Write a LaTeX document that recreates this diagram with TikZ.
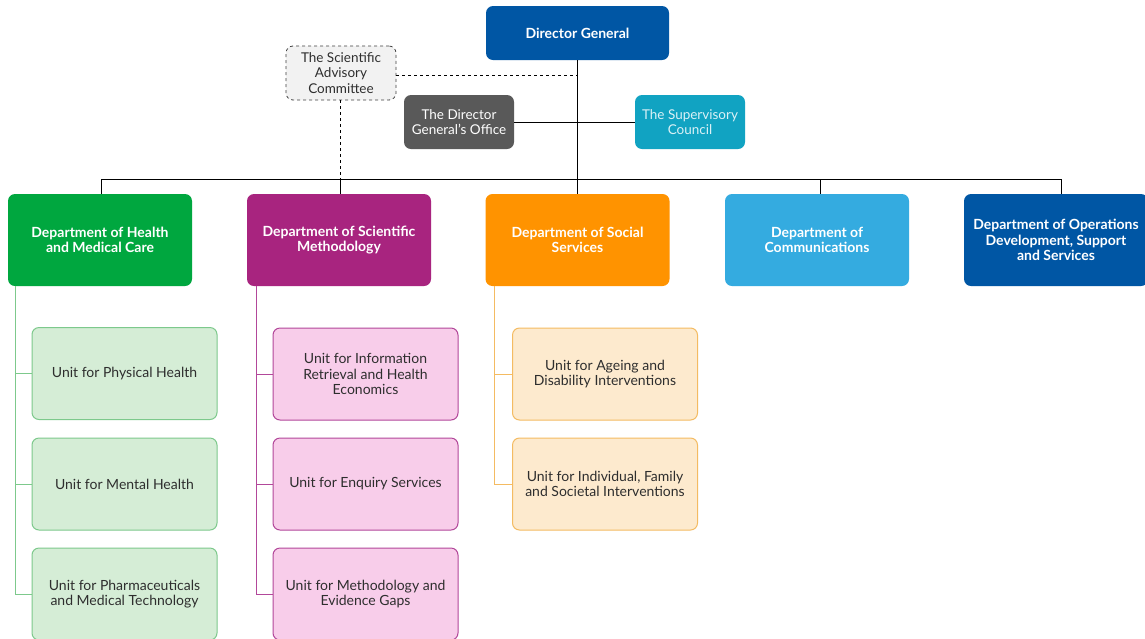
\documentclass[tikz,border=0pt]{standalone}
\usepackage{fontspec}
\setmainfont{Lato}
\usetikzlibrary{calc}
\definecolor{dgblue}{HTML}{0056A4}
\definecolor{dgoGrey}{HTML}{595959}
\definecolor{scTeal}{HTML}{11A3C2}
\definecolor{hGreen}{HTML}{00A73F}
\definecolor{smPurple}{HTML}{A8247F}
\definecolor{ssOrange}{HTML}{FF9300}
\definecolor{cmBlue}{HTML}{34ABE0}
\definecolor{gFill}{HTML}{D5EDD6}
\definecolor{gLine}{HTML}{7DC98C}
\definecolor{pFill}{HTML}{F8CDEA}
\definecolor{pLine}{HTML}{B2479A}
\definecolor{oFill}{HTML}{FDEACE}
\definecolor{oLine}{HTML}{F4BB62}
\definecolor{txt}{HTML}{2E2E2E}
\tikzset{
  box/.style={rectangle, rounded corners=7pt, align=center, inner sep=2pt},
  topbox/.style={box, minimum width=110pt, minimum height=54pt, font=\fontsize{13.5}{15.5}\selectfont},
  dept/.style={box, fill=#1, minimum width=184pt, minimum height=92pt, text=white, font=\fontsize{14}{15.5}\selectfont\bfseries},
  unitbox/.style={box, minimum width=185pt, minimum height=92pt, text=txt, font=\fontsize{14}{15.5}\selectfont, line width=1pt},
  conn/.style={line width=0.9pt, draw=black},
  dconn/.style={line width=0.8pt, draw=black, dashed},
}
\begin{document}
\begin{tikzpicture}[x=1pt,y=-1pt]
\useasboundingbox (0,0) rectangle (1145,638);
\fill[white] (0,0) rectangle (1145,638);
% top level
\node[box, fill=dgblue, minimum width=183pt, minimum height=54pt, text=white, font=\fontsize{14}{15.5}\selectfont\bfseries] (dg) at (577.5,33) {Director General};
\node[topbox, fill=black!5, draw=black!75, dashed, line width=0.8pt, text=txt] (sac) at (341,73) {The Scientific\\Advisory\\Committee};
\node[topbox, fill=dgoGrey, text=white] (dgo) at (459,122) {The Director\\General's Office};
\node[topbox, fill=scTeal, text=white!85!scTeal] (sc) at (690,122) {The Supervisory\\Council};
% departments
\node[dept=hGreen] (hd) at (100,240) {Department of Health\\and Medical Care};
\node[dept=smPurple] (sm) at (339,240) {Department of Scientific\\Methodology};
\node[dept=ssOrange] (ss) at (577.5,240) {Department of Social\\Services};
\node[dept=cmBlue] (cm) at (817,240) {Department of\\Communications};
\node[dept=dgblue] (op) at (1056,240) {Department of Operations\\Development, Support\\and Services};
% units
\node[unitbox, fill=gFill, draw=gLine] (g1) at (124.5,373.5) {Unit for Physical Health};
\node[unitbox, fill=gFill, draw=gLine] (g2) at (124.5,484) {Unit for Mental Health};
\node[unitbox, fill=gFill, draw=gLine] (g3) at (124.5,594) {Unit for Pharmaceuticals\\and Medical Technology};
\node[unitbox, fill=pFill, draw=pLine] (p1) at (365.5,374) {Unit for Information\\Retrieval and Health\\Economics};
\node[unitbox, fill=pFill, draw=pLine] (p2) at (365.5,484) {Unit for Enquiry Services};
\node[unitbox, fill=pFill, draw=pLine] (p3) at (365.5,594) {Unit for Methodology and\\Evidence Gaps};
\node[unitbox, fill=oFill, draw=oLine] (o1) at (605,374) {Unit for Ageing and\\Disability Interventions};
\node[unitbox, fill=oFill, draw=oLine] (o2) at (605,484) {Unit for Individual, Family\\and Societal Interventions};
% bus coordinates
\coordinate (busL) at (101,179);
\coordinate (busR) at (1061,179);
\coordinate (cmb) at (820,179);
\coordinate (sacj) at (577.5,75);
\coordinate (sacb) at (340,179);
% connectors
\draw[conn] (busL) -- (busR);
\draw[conn] (dg.south) -- (ss.north);
\draw[conn] (dgo.east) -- (sc.west);
\draw[dconn] (sac.east |- sacj) -- (sacj);
\draw[dconn] (sac.south -| sacb) -- (sacb);
\draw[conn] (busL) -- (hd.north -| busL);
\draw[conn] (sacb) -- (sm.north -| sacb);
\draw[conn] (cmb) -- (cm.north -| cmb);
\draw[conn] (busR) -- (op.north -| busR);
% unit connectors
\coordinate (gx) at (15,286);
\coordinate (px) at (256,286);
\coordinate (ox) at (494,286);
\draw[gLine, line width=1pt] (gx) |- (g3.west);
\draw[gLine, line width=1pt] (gx |- g1.west) -- (g1.west);
\draw[gLine, line width=1pt] (gx |- g2.west) -- (g2.west);
\draw[pLine, line width=1pt] (px) |- (p3.west);
\draw[pLine, line width=1pt] (px |- p1.west) -- (p1.west);
\draw[pLine, line width=1pt] (px |- p2.west) -- (p2.west);
\draw[oLine, line width=1pt] (ox) |- (o2.west);
\draw[oLine, line width=1pt] (ox |- o1.west) -- (o1.west);
\end{tikzpicture}
\end{document}
